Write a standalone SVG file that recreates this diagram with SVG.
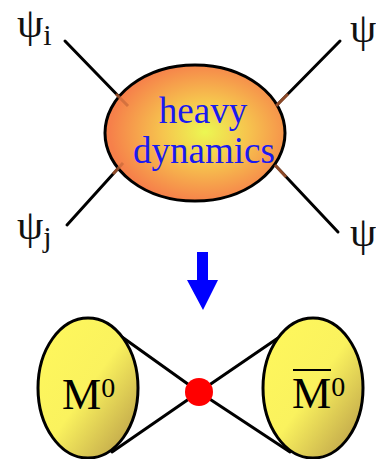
<svg xmlns="http://www.w3.org/2000/svg" width="376" height="459" viewBox="0 0 376 459">
<defs>
<radialGradient id="heavyGrad" cx="205" cy="132" r="95" gradientUnits="userSpaceOnUse" gradientTransform="translate(205 132) scale(1 0.75) translate(-205 -132)">
<stop offset="0" stop-color="#ecf752"/>
<stop offset="0.45" stop-color="#f6c44e"/>
<stop offset="1" stop-color="#f6804a"/>
</radialGradient>
<linearGradient id="mesonGrad" x1="0" y1="0" x2="1" y2="1">
<stop offset="0" stop-color="#fff85c"/>
<stop offset="0.5" stop-color="#faf25e"/>
<stop offset="1" stop-color="#b39446"/>
</linearGradient>
</defs>
<style>
.ln{stroke:#000;stroke-width:3;fill:none;stroke-linecap:round}
.inner{stroke:#c8693a;stroke-width:3;opacity:0.7}
.psi{font-family:"Liberation Serif","DejaVu Serif",serif;fill:#111}
.blue{font-family:"Liberation Serif","Times New Roman",serif;font-size:37px;fill:#1a1af0;text-anchor:middle}
.m{font-family:"Liberation Serif","Times New Roman",serif;fill:#000}
</style>
<g id="connectors">
<line class="ln" x1="65" y1="41" x2="128" y2="106"/>
<line class="ln" x1="340" y1="41" x2="276" y2="106"/>
<line class="ln" x1="67" y1="225" x2="123" y2="163"/>
<line class="ln" x1="338" y1="232" x2="275" y2="165"/>
<line class="ln" x1="122" y1="337" x2="199" y2="392"/>
<line class="ln" x1="112" y1="452" x2="199" y2="392"/>
<line class="ln" x1="278" y1="338" x2="199" y2="392"/>
<line class="ln" x1="290" y1="452" x2="199" y2="392"/>
</g>
<g id="heavy">
<ellipse cx="195" cy="133" rx="90" ry="68" fill="url(#heavyGrad)" stroke="#000" stroke-width="3"/>
<line class="inner" x1="116" y1="94" x2="128" y2="106"/>
<line class="inner" x1="288" y1="94" x2="276" y2="106"/>
<line class="inner" x1="113" y1="174" x2="123" y2="163"/>
<line class="inner" x1="286" y1="177" x2="275" y2="165"/>
<text class="blue" x="203" y="123">heavy</text>
<text class="blue" x="204" y="163">dynamics</text>
</g>
<g id="psi_i"><text class="psi" x="17" y="37" font-size="42">ψ<tspan font-size="30" dy="8">i</tspan></text></g>
<g id="psi_j"><text class="psi" x="17" y="239" font-size="42">ψ<tspan font-size="30" dy="8">j</tspan></text></g>
<g id="psi_tr"><text class="psi" x="350" y="42" font-size="42">ψ</text></g>
<g id="psi_br"><text class="psi" x="350" y="246" font-size="42">ψ</text></g>
<g id="arrow">
<polygon points="197,252 208,252 208,280 218,280 203,310 187,280 197,280" fill="#0000ff"/>
</g>
<g id="M0">
<ellipse cx="88" cy="388" rx="50" ry="70" fill="url(#mesonGrad)" stroke="#000" stroke-width="3"/>
<text class="m" x="62" y="409" font-size="44">M<tspan font-size="28" dy="-12">0</tspan></text>
</g>
<g id="M0bar">
<ellipse cx="313" cy="388" rx="50" ry="70" fill="url(#mesonGrad)" stroke="#000" stroke-width="3"/>
<line x1="293" y1="370" x2="331" y2="370" stroke="#000" stroke-width="2"/>
<text class="m" x="292" y="408" font-size="44">M<tspan font-size="28" dy="-12">0</tspan></text>
</g>
<g id="vertex"><circle cx="199" cy="392" r="14" fill="#ff0000"/></g>
</svg>
